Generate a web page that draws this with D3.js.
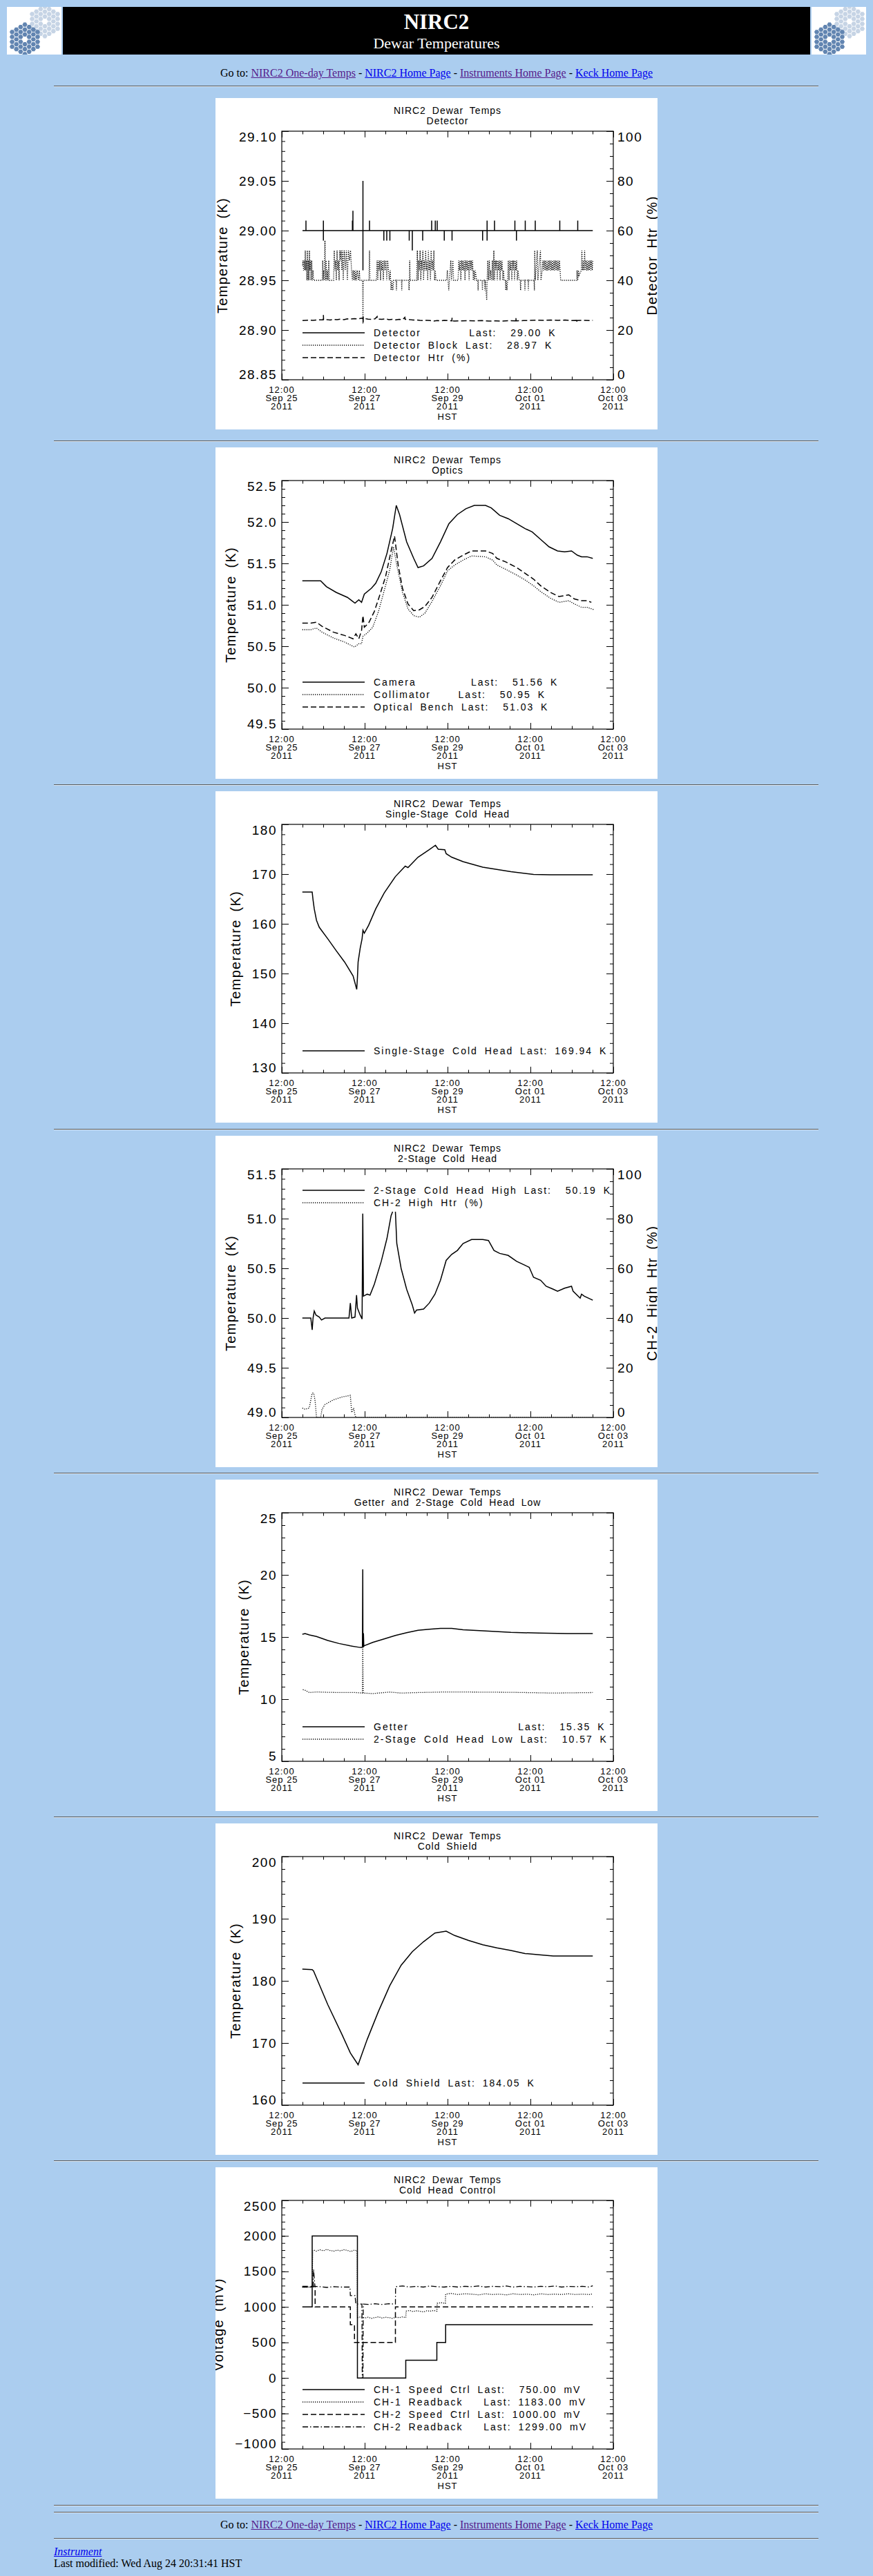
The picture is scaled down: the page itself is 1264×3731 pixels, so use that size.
<!DOCTYPE html>
<html>
<head>
<meta charset="utf-8">
<title>NIRC2 Dewar Temperatures</title>
<script src="https://cdn.jsdelivr.net/npm/d3@7"></script>
<style>
  html, body { margin: 0; padding: 0; }
  body {
    background: #abcdef;
    width: 1264px;
    height: 3731px;
    position: relative;
    overflow: hidden;
    font-family: "Liberation Serif", "Times New Roman", serif;
    font-size: 16px;
    color: #000;
  }
  a { color: #0000ee; }
  a.seen { color: #551a8b; }
  .rule {
    position: absolute; left: 78px; width: 1107px; height: 0; margin: 0;
    border: none; border-top: 1px solid #5a5a5a; border-bottom: 1px solid #dbe7f3;
  }
  .line { position: absolute; white-space: nowrap; line-height: 16px; }
  .nav { left: 0; width: 1264px; text-align: center; }
  svg.banner { position: absolute; left: 0; top: 0; }
  svg.plot { position: absolute; left: 312px; }
</style>
</head>
<body>
<svg class="banner" width="1264" height="90"></svg>
<div class="line nav" style="top:98px">Go to: <a class="seen" href="#">NIRC2 One-day Temps</a> - <a href="#">NIRC2 Home Page</a> - <a class="seen" href="#">Instruments Home Page</a> - <a href="#">Keck Home Page</a></div>
<div class="line nav" style="top:3649px">Go to: <a class="seen" href="#">NIRC2 One-day Temps</a> - <a href="#">NIRC2 Home Page</a> - <a class="seen" href="#">Instruments Home Page</a> - <a href="#">Keck Home Page</a></div>
<div class="line" style="top:3688px;left:78px"><a href="#"><i>Instrument</i></a></div>
<div class="line" style="top:3705px;left:78px">Last modified: Wed Aug 24 20:31:41 HST</div>
<script>
// all times are hours after 12:00 HST, Sep 25 2011
const panelTitles = ["Detector", "Optics", "Single-Stage Cold Head", "2-Stage Cold Head",
  "Getter and 2-Stage Cold Head Low", "Cold Shield", "Cold Head Control"];

const detectorTemp = [[12.0,29.00],[14.0,29.00],[14.0,29.01],[14.0,29.00],[24.1,29.00],[24.1,29.01],[24.1,28.99],[24.1,29.00],
  [40.9,29.00],[40.9,29.01],[40.9,29.00],[41.2,29.00],[41.2,29.02],[41.2,29.00],[47.0,29.00],[47.0,29.05],[47.0,28.96],[47.0,29.00],
  [50.8,29.00],[50.8,29.01],[50.8,29.00],[59.1,29.00],[59.1,28.99],[59.1,29.00],[60.8,29.00],[60.8,28.99],[60.8,29.00],
  [62.6,29.00],[62.6,28.99],[62.6,29.00],[73.8,29.00],[73.8,28.99],[73.8,29.00],[75.6,29.00],[75.6,28.98],[75.6,29.00],
  [81.6,29.00],[81.6,28.99],[81.6,29.00],[86.8,29.00],[86.8,29.01],[86.8,29.00],[88.9,29.00],[88.9,29.01],[88.9,29.00],
  [90.0,29.00],[90.0,29.01],[90.0,29.00],[94.1,29.00],[94.1,28.99],[94.1,29.00],[98.6,29.00],[98.6,28.99],[98.6,29.00],
  [116.3,29.00],[116.3,28.99],[116.3,29.00],[118.9,29.00],[118.9,29.01],[118.9,28.99],[118.9,29.00],[123.2,29.00],[123.2,29.01],[123.2,29.00],
  [135.0,29.00],[135.0,29.01],[135.0,29.00],[135.9,29.00],[135.9,28.99],[135.9,29.00],[141.0,29.00],[141.0,29.01],[141.0,29.00],
  [146.8,29.00],[146.8,29.01],[146.8,29.00],[161.0,29.00],[161.0,29.01],[161.0,29.00],[171.4,29.00],[171.4,29.01],[171.4,29.00],[180.1,29.00]];

const detectorBlockTemp = [[12.0,28.965],[12.3,28.97],[12.6,28.96],[13.0,28.97],[13.3,28.96],[13.6,28.98],[13.9,28.96],[14.2,28.97],
  [14.5,28.95],[14.8,28.98],[15.1,28.95],[15.4,28.97],[15.7,28.95],[16.0,28.98],[16.3,28.96],[16.6,28.97],[16.9,28.95],[17.3,28.97],
  [17.7,28.95],[18.1,28.96],[18.4,28.95],[23.4,28.95],[23.7,28.97],[24.0,28.95],[24.3,28.96],[24.6,28.95],[25.0,28.99],[25.3,28.95],
  [25.7,28.97],[26.0,28.95],[26.4,28.96],[26.8,28.95],[27.2,28.97],[27.6,28.95],[30.0,28.95],[30.4,28.98],[30.8,28.96],[31.2,28.97],
  [31.6,28.95],[32.0,28.98],[32.4,28.96],[32.8,28.97],[33.2,28.95],[33.6,28.98],[34.0,28.97],[34.4,28.98],[34.8,28.96],[35.2,28.98],
  [35.6,28.95],[36.2,28.98],[36.8,28.96],[37.4,28.98],[38.0,28.95],[38.6,28.98],[39.2,28.97],[39.8,28.98],[40.4,28.96],[40.9,28.95],
  [41.3,28.96],[41.7,28.95],[42.1,28.96],[42.5,28.95],[42.9,28.96],[43.3,28.95],[43.7,28.96],[44.1,28.955],[44.5,28.95],[44.9,28.96],
  [45.3,28.95],[46.8,28.95],[47.0,28.906],[47.2,28.95],[50.5,28.95],[50.8,28.98],[51.1,28.95],[54.8,28.95],[55.2,28.97],[55.6,28.95],
  [56.0,28.97],[56.4,28.96],[56.8,28.97],[57.2,28.95],[57.6,28.97],[58.0,28.96],[58.4,28.97],[58.8,28.95],[59.3,28.97],[59.8,28.96],
  [60.3,28.97],[60.8,28.95],[61.3,28.97],[61.8,28.96],[62.3,28.95],[62.8,28.96],[63.3,28.94],[63.8,28.95],[64.3,28.94],[64.8,28.95],
  [66.2,28.95],[66.4,28.94],[66.6,28.95],[69.3,28.95],[69.5,28.94],[69.7,28.95],[73.5,28.95],[73.7,28.94],[73.9,28.95],[74.1,28.97],
  [74.3,28.95],[78.1,28.95],[78.5,28.98],[78.9,28.95],[79.3,28.97],[79.7,28.96],[80.1,28.98],[80.5,28.95],[80.9,28.97],[81.3,28.96],
  [81.7,28.98],[82.1,28.95],[82.5,28.97],[82.9,28.96],[83.3,28.98],[83.7,28.96],[84.1,28.97],[84.5,28.95],[84.9,28.98],[85.3,28.96],
  [85.7,28.97],[86.1,28.95],[86.5,28.98],[86.9,28.96],[87.3,28.97],[87.7,28.96],[88.1,28.98],[88.5,28.95],[88.9,28.96],[89.3,28.95],
  [95.5,28.95],[95.9,28.96],[96.3,28.95],[96.7,28.94],[97.1,28.95],[97.9,28.97],[98.3,28.95],[99.1,28.97],[99.5,28.95],[102.1,28.95],
  [102.5,28.97],[102.9,28.96],[103.3,28.97],[103.7,28.95],[104.1,28.97],[104.5,28.96],[104.9,28.97],[105.3,28.96],[105.7,28.97],
  [106.1,28.95],[106.5,28.97],[106.9,28.96],[107.3,28.97],[107.7,28.96],[108.1,28.97],[108.5,28.95],[108.9,28.97],[109.3,28.96],
  [109.7,28.97],[110.1,28.96],[110.5,28.97],[110.9,28.95],[111.3,28.96],[111.7,28.95],[112.1,28.96],[112.8,28.95],[113.5,28.95],
  [113.7,28.94],[113.9,28.95],[116.0,28.95],[116.2,28.94],[116.4,28.95],[117.4,28.95],[117.6,28.94],[117.8,28.95],[118.7,28.93],
  [118.9,28.95],[119.3,28.97],[119.7,28.95],[120.2,28.97],[120.6,28.95],[121.0,28.96],[121.5,28.95],[122.0,28.97],[122.4,28.95],
  [122.8,28.98],[123.2,28.95],[123.6,28.97],[124.0,28.96],[124.4,28.97],[124.8,28.95],[125.2,28.97],[125.6,28.96],[126.0,28.97],
  [126.4,28.95],[126.8,28.97],[127.2,28.96],[127.6,28.97],[128.0,28.95],[128.4,28.96],[128.8,28.95],[129.5,28.95],[129.7,28.94],
  [129.9,28.95],[130.4,28.94],[130.8,28.95],[131.2,28.97],[131.6,28.95],[132.0,28.97],[132.4,28.96],[132.8,28.97],[133.2,28.95],
  [133.6,28.97],[134.0,28.96],[134.4,28.97],[134.8,28.95],[135.2,28.97],[135.6,28.96],[136.0,28.97],[136.4,28.95],[136.8,28.96],
  [137.5,28.95],[138.1,28.95],[138.3,28.94],[138.5,28.95],[140.6,28.95],[140.8,28.94],[141.0,28.95],[142.6,28.95],[142.8,28.94],
  [143.0,28.95],[146.1,28.95],[146.3,28.94],[146.5,28.98],[146.8,28.95],[148.0,28.98],[148.3,28.95],[149.8,28.98],[150.1,28.95],
  [150.8,28.96],[151.2,28.97],[151.6,28.96],[152.0,28.97],[152.4,28.96],[152.8,28.97],[153.2,28.96],[153.6,28.97],[154.0,28.96],
  [154.4,28.97],[154.8,28.96],[155.2,28.97],[155.6,28.96],[156.0,28.97],[156.4,28.96],[156.8,28.97],[157.2,28.96],[157.6,28.97],
  [158.0,28.96],[158.4,28.97],[158.8,28.96],[159.2,28.97],[159.6,28.96],[160.0,28.97],[160.4,28.96],[160.8,28.97],[161.2,28.96],
  [161.5,28.95],[170.8,28.95],[171.0,28.96],[171.4,28.95],[171.8,28.96],[172.1,28.955],[173.5,28.96],[173.8,28.98],[174.2,28.96],
  [174.6,28.97],[175.0,28.96],[175.4,28.98],[175.8,28.96],[176.2,28.97],[176.6,28.96],[177.0,28.97],[177.4,28.96],[177.8,28.97],
  [178.2,28.96],[178.6,28.97],[179.0,28.96],[179.4,28.97],[179.8,28.96],[180.1,28.97]];

const detectorHtr = [[12.0,23.8],[14,23.9],[16,24.0],[18,23.9],[20,24.0],[22,24.1],[24.0,24.1],[24.1,26.0],[24.2,24.1],[26,24.2],
  [28,24.0],[30,24.3],[32,24.2],[34,24.4],[36,24.2],[38,24.5],[40,24.4],[42,24.6],[44,24.5],[46,24.7],[47,24.8],[47.1,23.0],
  [47.2,25.2],[48,24.6],[50,24.4],[52,24.3],[54,24.5],[55.2,25.4],[55.3,24.4],[58,24.3],[60,24.5],[62,24.2],[64,24.3],[66,24.1],
  [68,24.3],[70,24.2],[71.3,25.1],[71.4,24.3],[74,24.2],[76,24.0],[78,24.1],[80,23.9],[82,23.8],[84,23.9],[86,23.8],[88,23.6],
  [90,23.8],[92,23.7],[94,23.9],[96,23.8],[98.5,23.7],[98.6,24.9],[98.7,23.7],[100,23.6],[104,23.7],[108,23.8],[112,23.7],
  [116,23.8],[120,23.6],[124,23.7],[128,23.6],[132,23.8],[135.5,23.7],[135.6,24.9],[135.7,23.7],[140,23.8],[144,23.9],[148,24.0],
  [152,23.9],[156,24.0],[160,23.9],[164,24.0],[168,23.8],[170.7,23.9],[170.8,23.0],[170.9,23.8],[174,23.9],[178,23.8],[180.1,23.9]];

const cameraTemp = [[11.9,51.29],[22.5,51.29],[25.8,51.22],[31.5,51.15],[38.0,51.09],[42.4,51.02],[44.6,51.06],[46.2,51.03],
  [47.8,51.13],[51.9,51.20],[54.4,51.26],[57.6,51.40],[60.9,51.62],[64.2,51.92],[66.3,52.20],[68.2,52.09],[72.3,51.76],[76.4,51.56],
  [78.9,51.45],[82.1,51.47],[87.0,51.56],[91.9,51.76],[96.8,51.98],[101.7,52.09],[106.6,52.16],[111.5,52.20],[118.0,52.20],
  [121.3,52.17],[126.2,52.08],[131.1,52.04],[136.0,51.98],[140.9,51.92],[145.0,51.88],[149.9,51.79],[154.8,51.70],[159.7,51.65],
  [163.8,51.64],[167.8,51.65],[171.1,51.60],[173.6,51.58],[176.8,51.58],[180.1,51.56]];

const collimatorTemp = [[11.9,50.70],[16.8,50.70],[20.1,50.72],[23.3,50.67],[29.9,50.60],[36.4,50.55],[42.1,50.49],[44.6,50.53],
  [46.2,50.53],[47.0,50.62],[49.5,50.66],[52.7,50.73],[56.0,50.92],[59.3,51.17],[62.5,51.42],[64.7,51.70],[66.6,51.48],[69.9,51.15],
  [73.1,50.95],[76.4,50.87],[79.7,50.85],[82.9,50.90],[87.0,51.04],[91.9,51.23],[96.0,51.41],[100.1,51.48],[105.0,51.54],
  [109.9,51.59],[118.0,51.58],[122.1,51.54],[124.6,51.48],[129.5,51.43],[136.0,51.36],[140.9,51.30],[145.8,51.23],[149.9,51.16],
  [155.6,51.08],[160.5,51.03],[166.2,51.05],[169.5,51.01],[173.6,50.97],[176.8,50.97],[180.9,50.94]];

const benchTemp = [[11.9,50.78],[16.8,50.78],[20.1,50.79],[23.3,50.74],[29.9,50.67],[36.4,50.63],[41.3,50.59],[42.9,50.65],
  [44.6,50.59],[46.2,50.69],[47.0,50.87],[47.8,50.73],[50.3,50.78],[53.6,50.92],[56.8,51.12],[60.1,51.34],[63.3,51.65],[65.3,51.83],
  [67.4,51.48],[69.9,51.20],[73.1,51.01],[76.4,50.93],[79.7,50.94],[82.9,50.98],[87.0,51.09],[91.9,51.29],[96.0,51.45],[100.1,51.54],
  [105.0,51.60],[109.9,51.65],[118.0,51.65],[122.1,51.62],[124.6,51.56],[129.5,51.52],[136.0,51.45],[140.9,51.38],[145.8,51.31],
  [149.9,51.23],[155.6,51.15],[160.5,51.10],[166.2,51.12],[169.5,51.07],[173.6,51.05],[176.8,51.05],[179.3,51.03]];

const singleStageTemp = [[11.9,166.4],[17.6,166.4],[18.1,164.8],[18.8,163.0],[20.1,160.7],[21.7,159.3],[26.6,157.0],[31.5,154.6],
  [36.4,152.3],[41.3,149.5],[43.4,146.8],[43.8,149.1],[44.2,152.3],[45.4,155.1],[46.5,157.0],[47.0,158.7],[47.8,158.1],[50.3,159.7],
  [54.4,163.0],[59.3,166.2],[65.8,169.5],[71.5,171.6],[73.1,171.3],[78.9,173.4],[85.4,174.9],[89.0,175.8],[90.6,175.0],[94.4,174.9],
  [95.2,174.1],[98.4,173.4],[105.0,172.5],[116.4,171.4],[132.7,170.5],[145.8,169.94],[155.6,169.85],[180.1,169.85]];

const twoStageHighTemp = [[11.9,50.00],[16.8,50.00],[17.6,49.88],[18.1,50.00],[18.8,50.07],[19.8,50.03],[21.7,50.01],[23.0,49.98],
  [25.0,50.00],[38.9,50.00],[39.7,50.15],[40.5,50.00],[42.4,50.01],[43.3,50.23],[43.8,50.10],[45.4,50.03],[46.5,49.99],[46.9,51.05],
  [47.3,50.22],[49.5,50.24],[51.1,50.23],[53.6,50.34],[57.6,50.57],[60.9,50.80],[63.3,51.03],[64.2,51.07],[64.3,null],[65.7,null],
  [65.8,51.07],[66.6,50.75],[69.1,50.50],[72.3,50.29],[75.6,50.13],[76.9,50.05],[78.0,50.08],[82.1,50.09],[85.4,50.15],[88.7,50.24],
  [91.9,50.38],[95.2,50.58],[98.4,50.64],[101.7,50.68],[105.0,50.75],[109.9,50.79],[116.4,50.79],[119.7,50.78],[122.9,50.68],
  [126.2,50.65],[131.1,50.63],[136.0,50.57],[140.9,50.53],[143.3,50.51],[145.8,50.41],[149.9,50.38],[153.1,50.32],[157.2,50.29],
  [159.7,50.27],[163.8,50.30],[167.8,50.32],[168.7,50.27],[172.8,50.20],[173.6,50.24],[175.2,50.22],[180.1,50.18]];

const ch2HighHtr = [[11.9,3.8],[13.5,3.3],[15.9,3.8],[17.6,9.8],[18.5,9.8],[19.3,6.6],[20.1,0],[22.5,0],[23.3,3.3],[25.0,5.2],
  [29.9,7.1],[34.8,8.2],[39.7,8.9],[40.5,2.0],[41.6,3.8],[42.4,1.0],[42.9,0],[180.1,0]];

const getterTemp = [[11.9,15.22],[13.5,15.28],[16.0,15.17],[20.1,15.04],[26.6,14.72],[33.1,14.48],[39.7,14.29],[45.4,14.16],
  [46.7,14.16],[46.9,20.45],[47.0,14.2],[47.3,15.3],[47.5,14.25],[47.8,14.3],[52.7,14.57],[59.3,14.85],[65.8,15.13],[72.3,15.35],
  [78.9,15.54],[85.4,15.63],[91.9,15.69],[98.4,15.69],[105.0,15.59],[116.4,15.50],[132.7,15.37],[149.0,15.32],[165.4,15.28],[180.1,15.28]];

const twoStageLowTemp = [[12.2,10.77],[13.5,10.71],[16.0,10.53],[20.1,10.58],[26.6,10.55],[34.8,10.53],[42.9,10.53],[46.7,10.49],
  [46.9,14.1],[47.2,10.49],[52.7,10.45],[62.5,10.57],[69.1,10.49],[78.9,10.53],[95.2,10.58],[111.5,10.57],[132.7,10.55],
  [157.2,10.49],[180.1,10.53]];

const coldShieldTemp = [[11.9,181.9],[17.6,181.8],[18.4,181.6],[26.6,176.2],[34.8,171.4],[39.7,168.4],[44.2,166.5],[49.5,170.6],
  [56.0,175.1],[62.5,179.2],[69.1,182.5],[75.6,184.7],[82.1,186.3],[88.7,187.7],[95.2,188.0],[100.1,187.3],[108.2,186.5],
  [116.4,185.8],[124.6,185.3],[132.7,184.9],[140.9,184.4],[149.1,184.2],[157.2,184.0],[180.1,184.0]];

const ch1Speed = [[11.9,1000],[17.6,2000],[43.8,0],[71.8,250],[89.8,500],[94.9,750],[180.1,750]];
const ch2Speed = [[11.9,1290],[19.3,1000],[39.7,750],[42.1,500],[65.8,1000],[180.1,1000]];
const ch1Readback = [[11.9,1280],[17.6,1280],[17.9,1790],[18.5,1800],[20,1785],[22,1805],[24,1790],[26,1810],[28,1795],[30,1785],
  [32,1800],[34,1790],[36,1805],[38,1795],[40,1780],[42,1800],[43.6,1790],[43.8,850],[46,860],[48,845],[50,855],[52,840],[54,850],
  [56,860],[58,845],[60,855],[62,850],[64,840],[66,855],[68,850],[70,860],[71.8,850],[72,940],[74,950],[76,935],[78,945],[80,940],
  [82,930],[84,945],[86,940],[88,950],[89.8,940],[90,1050],[92,1060],[94.7,1050],[94.9,1180],[98,1190],[102,1175],[106,1185],
  [110,1180],[114,1170],[118,1185],[122,1175],[126,1180],[130,1170],[134,1185],[138,1175],[142,1180],[146,1170],[150,1185],
  [154,1175],[158,1180],[162,1175],[166,1185],[170,1175],[174,1180],[178,1175],[180.1,1183]];
const ch2Readback = [[11.9,1280],[18.2,1280],[18.4,1530],[18.8,1400],[19.2,1290],[22,1285],[26,1275],[30,1285],[34,1280],
  [39.5,1280],[39.7,1160],[42.4,1160],[42.9,1040],[46.4,1040],[46.6,0],[47.0,0],[47.2,1040],[50,1035],[54,1045],[58,1035],
  [62,1045],[65.8,1040],[65.9,1285],[70,1295],[74,1280],[78,1290],[82,1280],[86,1295],[90,1285],[94,1280],[98,1290],[102,1280],
  [106,1290],[110,1285],[114,1295],[118,1280],[122,1290],[126,1285],[130,1295],[134,1280],[138,1290],[142,1285],[146,1280],
  [150,1290],[154,1285],[158,1295],[162,1280],[166,1290],[170,1285],[174,1290],[178,1280],[180.1,1299]];

const detectorLegend = ["Detector       Last:  29.00 K", "Detector Block Last:  28.97 K", "Detector Htr (%)"];
const opticsLegend = ["Camera        Last:  51.56 K", "Collimator    Last:  50.95 K", "Optical Bench Last:  51.03 K"];
const singleStageLegend = ["Single-Stage Cold Head Last: 169.94 K"];
const twoStageLegend = ["2-Stage Cold Head High Last:  50.19 K", "CH-2 High Htr (%)"];
const getterLegend = ["Getter                Last:  15.35 K", "2-Stage Cold Head Low Last:  10.57 K"];
const coldShieldLegend = ["Cold Shield Last: 184.05 K"];
const coldHeadLegend = ["CH-1 Speed Ctrl Last:  750.00 mV", "CH-1 Readback   Last: 1183.00 mV",
  "CH-2 Speed Ctrl Last: 1000.00 mV", "CH-2 Readback   Last: 1299.00 mV"];

document.addEventListener("DOMContentLoaded", function () {
  const FONT = "'Liberation Sans', Arial, Helvetica, sans-serif";
  const W = 640, H = 480;
  const M = { left: 96, right: 576, top: 48, bottom: 408 };
  const panelTops = [142, 648, 1146, 1645, 2143, 2641, 3139];
  const ruleTops = [124, 638, 1136, 1635, 2133, 2631, 3129, 3628, 3638, 3676];

  const start = new Date(2011, 8, 25, 12, 0);
  const toDate = h => new Date(start.getTime() + h * 3600000);
  const end = toDate(192);

  const styles = {
    solid: { w: 1.5, dash: null },
    dotted: { w: 1.3, dash: "1.2,1.8" },
    dashed: { w: 1.5, dash: "8,4" },
    dashdot: { w: 1.3, dash: "8,3,1.5,3" }
  };

  const panels = [
    { title: panelTitles[0], yDomain: [28.85, 29.10], yTicks: 5, yMinor: 25, yFormat: ".2f",
      yTitle: "Temperature (K)", y2: { domain: [0, 100], ticks: 5, minor: 20, title: "Detector Htr (%)" },
      series: [{ data: detectorTemp, style: "solid" }, { data: detectorBlockTemp, style: "dotted" },
               { data: detectorHtr, style: "dashed", right: true }],
      legend: detectorLegend, legendTop: false },
    { title: panelTitles[1], yDomain: [49.5, 52.5], yTicks: 6, yMinor: 30, yFormat: ".1f",
      yTitle: "Temperature (K)",
      series: [{ data: cameraTemp, style: "solid" }, { data: collimatorTemp, style: "dotted" },
               { data: benchTemp, style: "dashed" }],
      legend: opticsLegend, legendTop: false },
    { title: panelTitles[2], yDomain: [130, 180], yTicks: 5, yMinor: 25, yFormat: "d",
      yTitle: "Temperature (K)",
      series: [{ data: singleStageTemp, style: "solid" }],
      legend: singleStageLegend, legendTop: false },
    { title: panelTitles[3], yDomain: [49.0, 51.5], yTicks: 5, yMinor: 25, yFormat: ".1f",
      yTitle: "Temperature (K)", y2: { domain: [0, 100], ticks: 5, minor: 20, title: "CH-2 High Htr (%)" },
      series: [{ data: twoStageHighTemp, style: "solid" }, { data: ch2HighHtr, style: "dotted", right: true }],
      legend: twoStageLegend, legendTop: true },
    { title: panelTitles[4], yDomain: [5, 25], yTicks: 4, yMinor: 20, yFormat: "d",
      yTitle: "Temperature (K)",
      series: [{ data: getterTemp, style: "solid" }, { data: twoStageLowTemp, style: "dotted" }],
      legend: getterLegend, legendTop: false },
    { title: panelTitles[5], yDomain: [160, 200], yTicks: 4, yMinor: 20, yFormat: "d",
      yTitle: "Temperature (K)",
      series: [{ data: coldShieldTemp, style: "solid" }],
      legend: coldShieldLegend, legendTop: false },
    { title: panelTitles[6], yDomain: [-1000, 2500], yTicks: 7, yMinor: 35, yFormat: "d",
      yTitle: "Voltage (mV)",
      series: [{ data: ch1Speed, style: "solid", step: true }, { data: ch1Readback, style: "dotted" },
               { data: ch2Speed, style: "dashed", step: true }, { data: ch2Readback, style: "dashdot" }],
      legend: coldHeadLegend, legendTop: false }
  ];

  drawBanner();

  ruleTops.forEach(t => {
    d3.select("body").append("div").attr("class", "rule").style("top", t + "px");
  });

  panels.forEach((cfg, i) => drawPanel(cfg, i, panelTops[i]));

  function drawBanner() {
    const svg = d3.select("svg.banner");
    svg.append("rect").attr("x", 91).attr("y", 10).attr("width", 1082).attr("height", 69).attr("fill", "#000");
    [10, 1175].forEach(x0 => {
      const g = svg.append("g").attr("transform", `translate(${x0},10)`);
      g.append("rect").attr("width", 79).attr("height", 69).attr("fill", "#fff");
      g.append("clipPath").attr("id", "logo" + x0).append("rect").attr("width", 79).attr("height", 69);
      const inner = g.append("g").attr("clip-path", `url(#logo${x0})`);
      hexCluster(inner, 55, 21, "#c6d4e5");
      hexCluster(inner, 26, 47, "#6285b1");
    });
    svg.append("text").attr("x", 632).attr("y", 42).attr("text-anchor", "middle")
      .attr("fill", "#fff").attr("font-family", "'Liberation Serif', serif")
      .attr("font-weight", "bold").attr("font-size", 31).text("NIRC2");
    svg.append("text").attr("x", 632).attr("y", 70).attr("text-anchor", "middle")
      .attr("fill", "#fff").attr("font-family", "'Liberation Serif', serif")
      .attr("font-size", 22).text("Dewar Temperatures");
  }

  // a Keck-style primary: 36 flat-topped hexagons around a missing centre
  function hexCluster(g, cx, cy, color) {
    const s = 4.1;
    for (let q = -3; q <= 3; q++) {
      for (let r = -3; r <= 3; r++) {
        if (Math.abs(q + r) > 3 || (q === 0 && r === 0)) continue;
        const hx = cx + s * 1.5 * q;
        const hy = cy + s * Math.sqrt(3) * (r + q / 2);
        const pts = d3.range(6).map(k => {
          const a = Math.PI / 3 * k;
          return [hx + s * 0.88 * Math.cos(a), hy + s * 0.88 * Math.sin(a)];
        });
        g.append("polygon").attr("points", pts.map(p => p.join(",")).join(" ")).attr("fill", color);
      }
    }
  }

  function drawPanel(cfg, idx, top) {
    const svg = d3.select("body").append("svg")
      .attr("class", "plot")
      .attr("width", W)
      .attr("height", H)
      .style("top", top + "px")
      .attr("font-family", FONT);

    svg.append("rect").attr("width", W).attr("height", H).attr("fill", "#fff");

    const x = d3.scaleTime().domain([start, end]).range([M.left, M.right]);
    const y = d3.scaleLinear().domain(cfg.yDomain).range([M.bottom, M.top]);
    const y2 = cfg.y2 ? d3.scaleLinear().domain(cfg.y2.domain).range([M.bottom, M.top]) : null;

    // title
    const cx = (M.left + M.right) / 2;
    const title = svg.append("text")
      .attr("text-anchor", "middle")
      .attr("font-size", 14)
      .attr("letter-spacing", 1)
      .attr("word-spacing", 4);
    title.append("tspan").attr("x", cx).attr("y", 23).text("NIRC2 Dewar Temps");
    title.append("tspan").attr("x", cx).attr("y", 38).text(cfg.title);

    // data
    const clipId = "plotclip" + idx;
    svg.append("clipPath").attr("id", clipId).append("rect")
      .attr("x", M.left).attr("y", M.top)
      .attr("width", M.right - M.left).attr("height", M.bottom - M.top);

    cfg.series.forEach(s => {
      const ys = s.right ? y2 : y;
      const line = d3.line()
        .defined(d => d[1] !== null)
        .x(d => x(toDate(d[0])))
        .y(d => ys(d[1]))
        .curve(s.step ? d3.curveStepAfter : d3.curveLinear);
      svg.append("path")
        .datum(s.data)
        .attr("d", line)
        .attr("fill", "none")
        .attr("stroke", "#000")
        .attr("stroke-width", styles[s.style].w)
        .attr("stroke-dasharray", styles[s.style].dash)
        .attr("clip-path", `url(#${clipId})`);
    });

    // frame
    svg.append("rect")
      .attr("x", M.left).attr("y", M.top)
      .attr("width", M.right - M.left).attr("height", M.bottom - M.top)
      .attr("fill", "none").attr("stroke", "#000").attr("stroke-width", 1.2);

    // x axes (ticks point inward, top one mirrors)
    const minorDates = d3.timeHour.every(12).range(start, toDate(193));
    const xMajor = d3.range(0, 193, 48).map(toDate);

    const tidy = g => {
      g.select(".domain").remove();
      g.selectAll(".tick line").attr("stroke", "#000").attr("stroke-width", 1);
      return g;
    };

    [[d3.axisBottom, M.bottom], [d3.axisTop, M.top]].forEach(([ax, yPos]) => {
      svg.append("g").attr("transform", `translate(0,${yPos})`)
        .call(ax(x).tickValues(minorDates).tickSize(-4.5).tickFormat("")).call(tidy);
      svg.append("g").attr("transform", `translate(0,${yPos})`)
        .call(ax(x).tickValues(xMajor).tickSize(-9).tickFormat("")).call(tidy);
    });

    const fmtTime = d3.timeFormat("%H:%M");
    const fmtDay = d3.timeFormat("%b %d");
    const fmtYear = d3.timeFormat("%Y");
    const xl = svg.append("g").attr("font-size", 13).attr("letter-spacing", 1).attr("text-anchor", "middle");
    xMajor.forEach(d => {
      const t = xl.append("text");
      t.append("tspan").attr("x", x(d)).attr("y", 427).text(fmtTime(d));
      t.append("tspan").attr("x", x(d)).attr("y", 439).text(fmtDay(d));
      t.append("tspan").attr("x", x(d)).attr("y", 451).text(fmtYear(d));
    });
    xl.append("text").attr("x", cx).attr("y", 466).text("HST");

    // y axes
    const lo = cfg.yDomain[0], hi = cfg.yDomain[1];
    const nudge = (sel, scale) => {
      const [a, b] = scale.domain();
      sel.selectAll(".tick text")
        .attr("fill", "#000")
        .attr("y", d => Math.abs(d - b) < 1e-9 ? 8 : Math.abs(d - a) < 1e-9 ? -8 : 0);
    };

    svg.append("g").attr("transform", `translate(${M.left},0)`)
      .call(d3.axisLeft(y).tickValues(d3.ticks(lo, hi, cfg.yMinor)).tickSize(-5).tickFormat(""))
      .call(tidy);
    const left = svg.append("g").attr("transform", `translate(${M.left},0)`)
      .call(d3.axisLeft(y).tickValues(d3.ticks(lo, hi, cfg.yTicks)).tickSize(-10).tickPadding(7)
        .tickFormat(d3.format(cfg.yFormat)))
      .call(tidy);
    left.attr("font-family", FONT).attr("font-size", 19).attr("letter-spacing", 1.5);
    nudge(left, y);

    const ry = y2 || y;
    const rTicks = y2 ? cfg.y2.ticks : cfg.yTicks;
    const rMinor = y2 ? cfg.y2.minor : cfg.yMinor;
    const [rlo, rhi] = ry.domain();
    svg.append("g").attr("transform", `translate(${M.right},0)`)
      .call(d3.axisRight(ry).tickValues(d3.ticks(rlo, rhi, rMinor)).tickSize(-5).tickFormat(""))
      .call(tidy);
    const right = svg.append("g").attr("transform", `translate(${M.right},0)`)
      .call(d3.axisRight(ry).tickValues(d3.ticks(rlo, rhi, rTicks)).tickSize(-10).tickPadding(6)
        .tickFormat(y2 ? d3.format("d") : ""))
      .call(tidy);
    right.attr("font-family", FONT).attr("font-size", 19).attr("letter-spacing", 1.5);
    nudge(right, ry);

    // axis titles, placed from the width of the tick labels
    const TF = 20;
    const leftBoxes = left.selectAll(".tick text").nodes().map(n => n.getBBox());
    const labelLeft = M.left + d3.min(leftBoxes, b => b.x);
    const lx = labelLeft - 13 - 0.21 * TF;
    svg.append("text")
      .attr("transform", `translate(${lx},${(M.top + M.bottom) / 2}) rotate(-90)`)
      .attr("text-anchor", "middle")
      .attr("font-size", TF)
      .attr("letter-spacing", 1.3)
      .attr("word-spacing", 4)
      .text(cfg.yTitle);

    if (y2) {
      const rightBoxes = right.selectAll(".tick text").nodes().map(n => n.getBBox());
      const labelRight = M.right + d3.max(rightBoxes, b => b.x + b.width);
      const rx = labelRight + 6 + 0.73 * TF;
      svg.append("text")
        .attr("transform", `translate(${rx},${(M.top + M.bottom) / 2}) rotate(-90)`)
        .attr("text-anchor", "middle")
        .attr("font-size", TF)
        .attr("letter-spacing", 1.3)
        .attr("word-spacing", 4)
        .text(cfg.y2.title);
    }

    // legend
    const n = cfg.legend.length;
    const rowY = i => cfg.legendTop ? 79 + i * 18 : 376 - (n - 1 - i) * 18;
    const lg = svg.append("g");
    cfg.legend.forEach((label, i) => {
      const st = styles[cfg.series[i].style];
      lg.append("line")
        .attr("x1", 126).attr("x2", 216)
        .attr("y1", rowY(i)).attr("y2", rowY(i))
        .attr("stroke", "#000")
        .attr("stroke-width", st.w)
        .attr("stroke-dasharray", st.dash);
      lg.append("text")
        .attr("x", 229).attr("y", rowY(i) + 5)
        .attr("font-size", 14)
        .attr("letter-spacing", 2)
        .attr("word-spacing", 4)
        .attr("xml:space", "preserve")
        .style("white-space", "pre")
        .text(label);
    });
  }
});
</script>
</body>
</html>
